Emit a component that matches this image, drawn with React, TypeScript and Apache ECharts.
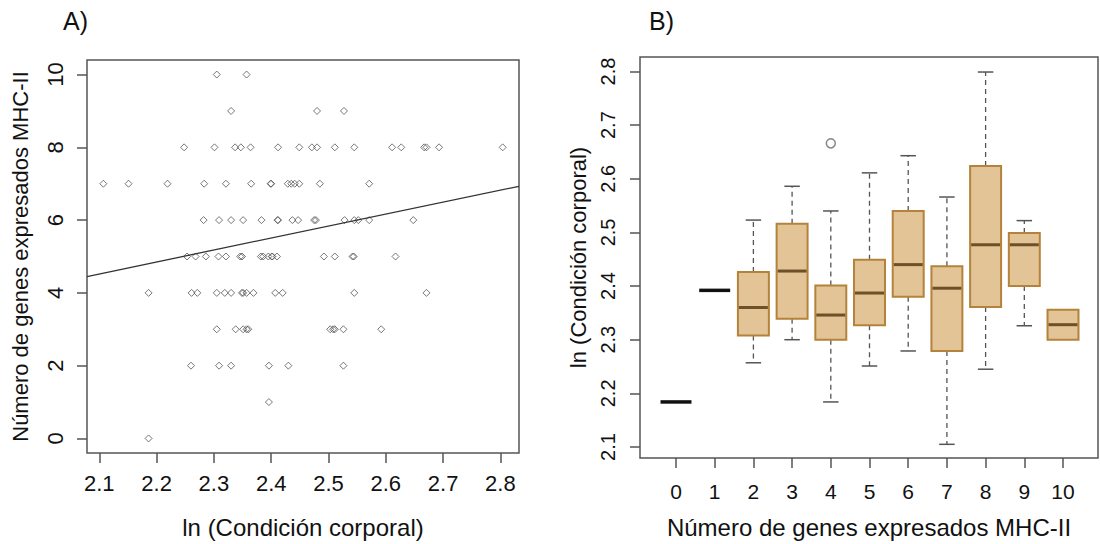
import React, { useEffect, useRef } from "react";
import * as echarts from "echarts";

// ---------- Panel A: scatter (x = ln condición corporal, y = nº genes) ----------
const COND_G0 = [2.186];
const COND_G1 = [2.396];
const COND_G2 = [2.26, 2.309, 2.33, 2.396, 2.43, 2.526];
const COND_G3 = [2.305, 2.338, 2.351, 2.357, 2.36, 2.503, 2.508, 2.511, 2.526, 2.592];
const COND_G4 = [2.186, 2.261, 2.271, 2.305, 2.319, 2.33, 2.349, 2.351, 2.357, 2.369, 2.407, 2.42, 2.545, 2.671];
const COND_G5 = [2.253, 2.268, 2.286, 2.308, 2.321, 2.346, 2.349, 2.382, 2.386, 2.395, 2.401, 2.402, 2.41, 2.492, 2.511, 2.542, 2.544, 2.617];
const COND_G6 = [2.282, 2.309, 2.33, 2.351, 2.383, 2.411, 2.412, 2.437, 2.447, 2.475, 2.478, 2.528, 2.545, 2.552, 2.571, 2.648];
const COND_G7 = [2.107, 2.151, 2.219, 2.283, 2.321, 2.365, 2.399, 2.4, 2.429, 2.435, 2.441, 2.449, 2.485, 2.571];
const COND_G8 = [2.248, 2.301, 2.337, 2.347, 2.364, 2.412, 2.449, 2.471, 2.48, 2.511, 2.545, 2.611, 2.627, 2.667, 2.671, 2.693, 2.804];
const COND_G9 = [2.33, 2.48, 2.527];
const COND_G10 = [2.305, 2.357];
const SCATTER_ROWS = [COND_G0, COND_G1, COND_G2, COND_G3, COND_G4, COND_G5, COND_G6, COND_G7, COND_G8, COND_G9, COND_G10];

const REG_X = [2.0785, 2.8325];
const REG_Y = [4.45, 6.93];

const X_TICKS_A = [2.1, 2.2, 2.3, 2.4, 2.5, 2.6, 2.7, 2.8];
const Y_TICKS_A = [0, 2, 4, 6, 8, 10];

// ---------- Panel B: boxplots ----------
const BOX_GROUPS = [0, 1, 2, 3, 4, 5, 6, 7, 8, 9, 10];
const BOX_LOW = [2.184, 2.392, 2.257, 2.3, 2.184, 2.251, 2.279, 2.105, 2.245, 2.326, 2.3];
const BOX_Q1 = [2.184, 2.392, 2.308, 2.339, 2.3, 2.327, 2.38, 2.279, 2.361, 2.4, 2.3];
const BOX_MED = [2.184, 2.392, 2.36, 2.428, 2.346, 2.387, 2.44, 2.396, 2.477, 2.477, 2.328];
const BOX_Q3 = [2.184, 2.392, 2.426, 2.516, 2.401, 2.449, 2.54, 2.437, 2.624, 2.499, 2.356];
const BOX_HIGH = [2.184, 2.392, 2.523, 2.586, 2.54, 2.611, 2.643, 2.566, 2.799, 2.522, 2.356];
const OUTLIER_GROUP = [4];
const OUTLIER_VALUE = [2.666];
const Y_TICKS_B = [2.1, 2.2, 2.3, 2.4, 2.5, 2.6, 2.7, 2.8];

const FONT = "'Liberation Sans', Arial, Helvetica, sans-serif";
const TXT = "#111";
const AXC = "#555";

export default function App() {
  const ref = useRef<HTMLDivElement>(null);
  useEffect(() => {
    if (!ref.current) return;
    const chart = echarts.init(ref.current, undefined, { renderer: "svg" });

    const scatterData: number[][] = [];
    SCATTER_ROWS.forEach((xs, g) => xs.forEach((x) => scatterData.push([x, g])));
    const boxData = BOX_GROUPS.map((g, i) => [g, BOX_LOW[i], BOX_Q1[i], BOX_MED[i], BOX_Q3[i], BOX_HIGH[i]]);
    const outData = OUTLIER_GROUP.map((g, i) => [g, OUTLIER_VALUE[i]]);

    const tickStyle = { color: AXC, width: 1.5 };
    const noLine = { show: false, onZero: false };

    const option: any = {
      animation: false,
      textStyle: { fontFamily: FONT },
      grid: [
        { left: 87, top: 60, width: 432, height: 393, show: true, borderColor: AXC, borderWidth: 1.5, backgroundColor: "transparent" },
        { left: 640, top: 57, width: 458, height: 401, show: true, borderColor: AXC, borderWidth: 1.5, backgroundColor: "transparent" },
      ],
      xAxis: [
        {
          type: "value", gridIndex: 0, min: 2.0785, max: 2.8325, position: "bottom",
          axisLine: noLine, splitLine: { show: false },
          axisTick: { show: true, length: 10, customValues: X_TICKS_A, lineStyle: tickStyle },
          axisLabel: { customValues: X_TICKS_A, fontSize: 22, color: TXT, margin: 19, fontFamily: FONT, formatter: (v: number) => v.toFixed(1) },
          name: "ln (Condición corporal)", nameLocation: "middle", nameGap: 62,
          nameTextStyle: { fontSize: 24, color: TXT, fontFamily: FONT },
        },
        {
          type: "value", gridIndex: 1, min: -0.93, max: 10.904, position: "bottom",
          axisLine: noLine, splitLine: { show: false },
          axisTick: { show: true, length: 10, customValues: BOX_GROUPS, lineStyle: tickStyle },
          axisLabel: { customValues: BOX_GROUPS, fontSize: 21, color: TXT, margin: 23, fontFamily: FONT, formatter: (v: number) => String(Math.round(v)) },
          name: "Número de genes expresados MHC-II", nameLocation: "middle", nameGap: 57,
          nameTextStyle: { fontSize: 24, color: TXT, fontFamily: FONT },
        },
      ],
      yAxis: [
        {
          type: "value", gridIndex: 0, min: -0.4, max: 10.4, position: "left",
          axisLine: noLine, splitLine: { show: false },
          axisTick: { show: true, length: 10, customValues: Y_TICKS_A, lineStyle: tickStyle },
          axisLabel: { customValues: Y_TICKS_A, fontSize: 22, color: TXT, margin: 21, rotate: 90, fontFamily: FONT },
          name: "Número de genes expresados MHC-II", nameLocation: "middle", nameGap: 56,
          nameTextStyle: { fontSize: 22, color: TXT, fontFamily: FONT },
        },
        {
          type: "value", gridIndex: 1, min: 2.0795, max: 2.827, position: "left",
          axisLine: noLine, splitLine: { show: false },
          axisTick: { show: true, length: 10, customValues: Y_TICKS_B, lineStyle: tickStyle },
          axisLabel: { customValues: Y_TICKS_B, fontSize: 20, color: TXT, margin: 22, rotate: 90, fontFamily: FONT, formatter: (v: number) => v.toFixed(1) },
          name: "ln (Condición corporal)", nameLocation: "middle", nameGap: 51,
          nameTextStyle: { fontSize: 22, color: TXT, fontFamily: FONT },
        },
      ],
      graphic: [
        { type: "text", left: 63, top: 8, style: { text: "A)", fontSize: 25, fill: TXT, fontFamily: FONT } },
        { type: "text", left: 649, top: 8, style: { text: "B)", fontSize: 25, fill: TXT, fontFamily: FONT } },
      ],
      series: [
        {
          type: "scatter", xAxisIndex: 0, yAxisIndex: 0, data: scatterData,
          symbol: "diamond", symbolSize: 7,
          itemStyle: { color: "rgba(0,0,0,0)", borderColor: "#555", borderWidth: 1 },
        },
        {
          type: "line", xAxisIndex: 0, yAxisIndex: 0,
          data: [[REG_X[0], REG_Y[0]], [REG_X[1], REG_Y[1]]],
          symbol: "none", lineStyle: { color: "#333", width: 1.3 },
        },
        {
          type: "custom", xAxisIndex: 1, yAxisIndex: 1, data: boxData,
          encode: { x: 0, y: [1, 2, 3, 4, 5] },
          renderItem: (params: any, api: any) => {
            const g = api.value(0);
            const low = api.value(1), q1 = api.value(2), med = api.value(3), q3 = api.value(4), high = api.value(5);
            const xc = api.coord([g, med])[0];
            const half = api.size([0.8, 0])[0] / 2;
            const capHalf = half / 2;
            const py = (v: number) => api.coord([g, v])[1];
            const children: any[] = [];
            if (q1 === q3) {
              children.push({ type: "line", shape: { x1: xc - half, y1: py(med), x2: xc + half, y2: py(med) }, style: { stroke: "#111", lineWidth: 3.5 } });
            } else {
              const wStyle = { stroke: "#555", lineWidth: 1.3, lineDash: [5, 4] };
              const cStyle = { stroke: "#555", lineWidth: 1.5 };
              if (high > q3) {
                children.push({ type: "line", shape: { x1: xc, y1: py(q3), x2: xc, y2: py(high) }, style: wStyle });
                children.push({ type: "line", shape: { x1: xc - capHalf, y1: py(high), x2: xc + capHalf, y2: py(high) }, style: cStyle });
              }
              if (low < q1) {
                children.push({ type: "line", shape: { x1: xc, y1: py(q1), x2: xc, y2: py(low) }, style: wStyle });
                children.push({ type: "line", shape: { x1: xc - capHalf, y1: py(low), x2: xc + capHalf, y2: py(low) }, style: cStyle });
              }
              const yTop = py(q3), yBot = py(q1);
              children.push({ type: "rect", shape: { x: xc - half, y: yTop, width: half * 2, height: yBot - yTop }, style: { fill: "#E3C496", stroke: "#B4823A", lineWidth: 2 } });
              children.push({ type: "line", shape: { x1: xc - half + 1, y1: py(med), x2: xc + half - 1, y2: py(med) }, style: { stroke: "#6E5028", lineWidth: 3 } });
            }
            return { type: "group", children };
          },
        },
        {
          type: "scatter", xAxisIndex: 1, yAxisIndex: 1, data: outData,
          symbol: "circle", symbolSize: 9,
          itemStyle: { color: "rgba(0,0,0,0)", borderColor: "#666", borderWidth: 1.5 },
        },
      ],
    };
    chart.setOption(option);
    return () => chart.dispose();
  }, []);
  return <div ref={ref} style={{ position: "absolute", left: 0, top: 0, width: 1100, height: 544, background: "#fff" }} />;
}
